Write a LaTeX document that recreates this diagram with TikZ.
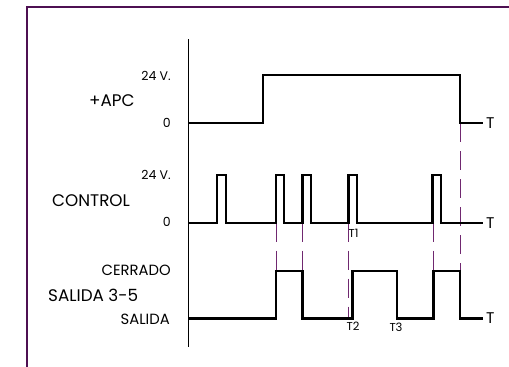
\documentclass[tikz,border=0pt]{standalone}
\usepackage{fontspec}
\setmainfont{Poppins}
\usetikzlibrary{positioning}
\definecolor{marcocolor}{RGB}{78,16,82}
\definecolor{guiacolor}{RGB}{112,40,112}

\begin{document}
\begin{tikzpicture}[x=1pt, y=-1pt,
        every node/.style={inner sep=0pt, font=\fontsize{14}{16}\selectfont},
        marco/.style={draw=marcocolor, line width=2pt},
        eje/.style={draw=black, line width=1.5pt},
        senal/.style={draw=black, line width=2.4pt},
        guia/.style={draw=guiacolor, line width=0.9pt, dash pattern=on 19pt off 9pt},
        nombre/.style={anchor=west, font=\fontsize{16.8}{19}\selectfont},
        nivel/.style={anchor=east, font=\fontsize{12.5}{14}\selectfont},
        texto/.style={anchor=east, font=\fontsize{14.8}{17}\selectfont},
        fin/.style={font=\fontsize{15.5}{17}\selectfont},
        marca/.style={font=\fontsize{11.5}{13}\selectfont}
    ]
        \useasboundingbox (0,0) rectangle (509,367);
        \draw[marco] (26.5,367) -- (26.5,6.5) -- (509,6.5);

        % eje de tiempo
        \coordinate (eje-arriba) at (188.5,39);
        \coordinate (eje-abajo)  at (188.5,347);
        \draw[eje] (eje-arriba) -- (eje-abajo);

        % textos de la izquierda
        \node[nombre] (apc)     at (89,101)  {+APC};
        \node[nivel]  (apc-24)  at (171,76)  {24 V.};
        \node[nivel]  (apc-0)   at (171,123) {0};
        \node[nombre] (ctrl)    at (52,201)  {CONTROL};
        \node[nivel]  (ctrl-24) at (171,175) {24 V.};
        \node[nivel]  (ctrl-0)  at (171,222) {0};
        \node[texto]  (cerrado) at (171,270) {CERRADO};
        \node[nombre] (sal)     at (48,295)  {SALIDA 3-5};
        \node[texto]  (salida)  at (170,319) {SALIDA};

        % lineas de referencia
        \draw[guia] (276,222.7)   -- (276,270.7);
        \draw[guia] (302.3,222.7) -- (302.3,270.7);
        \draw[guia] (348.3,222.7) -- (348.3,318.3);
        \draw[guia] (433,222.7)   -- (433,270.7);
        \draw[guia] (460,123)     -- (460,270.7);

        % +APC
        \coordinate (apc-fin) at (483,123);
        \draw[senal] (188.5,123) -- (263,123) -- (263,75) -- (460,75)
            -- (460,123) -- (apc-fin);
        \node[fin, right=3pt of apc-fin] (t-apc) {T};

        % CONTROL
        \coordinate (ctrl-fin) at (483,222.7);
        \draw[senal] (188.5,222.7)
            -- (216.7,222.7) -- (216.7,174.7) -- (225.7,174.7) -- (225.7,222.7)
            -- (276,222.7)   -- (276,174.7)   -- (284,174.7)   -- (284,222.7)
            -- (302.3,222.7) -- (302.3,174.7) -- (311,174.7)   -- (311,222.7)
            -- (348.3,222.7) -- (348.3,174.7) -- (356.7,174.7) -- (356.7,222.7)
            -- (432.3,222.7) -- (432.3,174.7) -- (441,174.7)   -- (441,222.7)
            -- (ctrl-fin);
        \node[fin, right=3pt of ctrl-fin] (t-ctrl) {T};

        % SALIDA 3-5
        \coordinate (sal-fin) at (483,318.3);
        \draw[senal] (188.5,318.3)
            -- (276,318.3)   -- (276,270.7)   -- (302.3,270.7) -- (302.3,318.3)
            -- (352.3,318.3) -- (352.3,270.7) -- (396.7,270.7) -- (396.7,318.3)
            -- (433.3,318.3) -- (433.3,270.7) -- (460,270.7)   -- (460,318.3)
            -- (sal-fin);
        \node[fin, right=3pt of sal-fin] (t-sal) {T};

        % instantes
        \node[marca, anchor=west] (t1) at (348.5,233) {T1};
        \node[marca, anchor=west] (t2) at (346.5,326) {T2};
        \node[marca] (t3) at (396,327) {T3};
    \end{tikzpicture}
\end{document}
